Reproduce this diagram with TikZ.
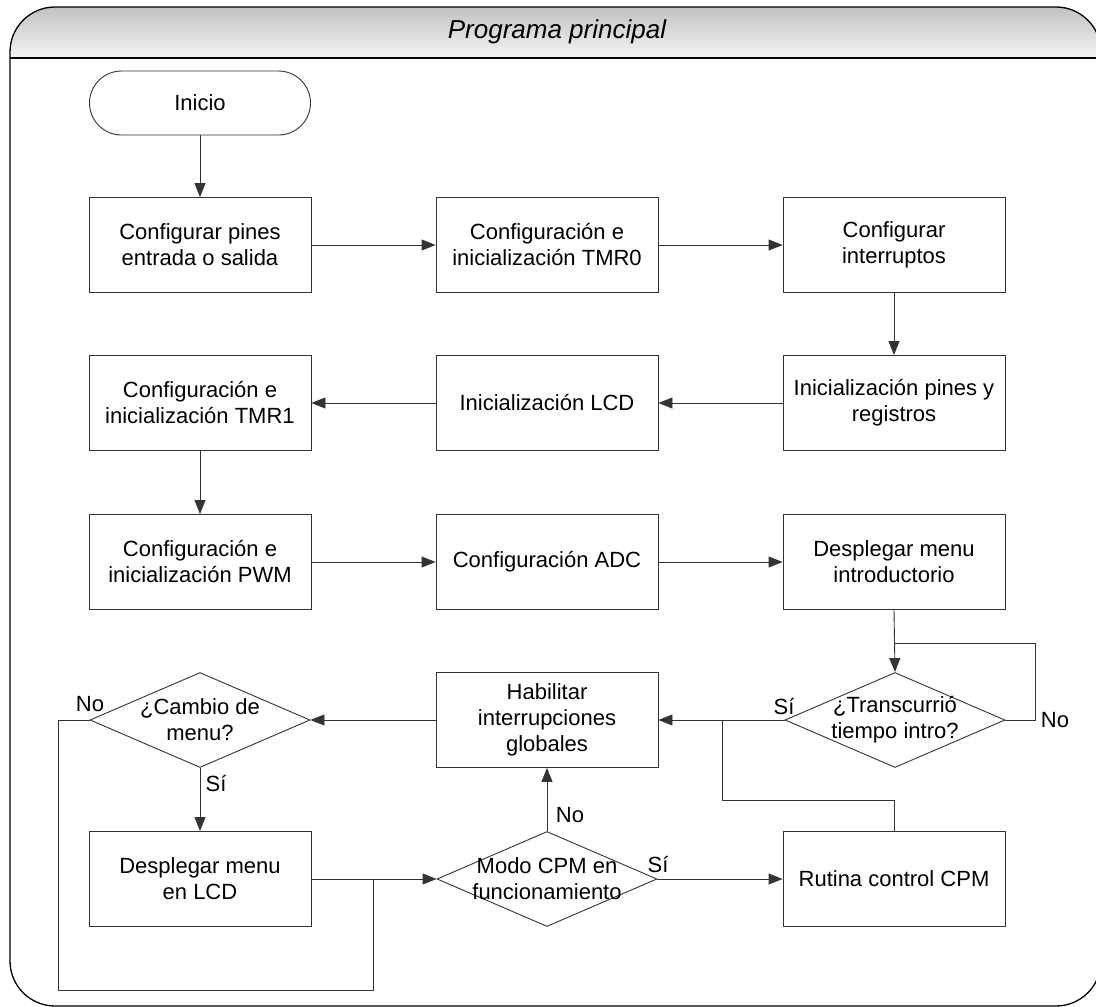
\documentclass[tikz,border=0pt]{standalone}
\usepackage{fontspec}
\setmainfont{Liberation Sans}
\usetikzlibrary{shapes.geometric,arrows.meta}
\begin{document}
\begin{tikzpicture}[x=1pt,y=-1pt,
 tx/.style={font=\fontsize{22}{26}\selectfont},
 box/.style={tx, draw=black!80, line width=0.9pt, minimum width=222pt, minimum height=95pt, inner sep=0pt, align=center},
 dia/.style={draw=black!80, diamond, line width=0.9pt, minimum width=220pt, minimum height=95pt, inner sep=0pt},
 dtxt/.style={tx, align=center, inner sep=0pt},
 lab/.style={tx, inner sep=0pt},
 conn/.style={draw=black!80, line width=0.9pt},
 arr/.style={conn, -{Triangle[length=14pt,width=11pt]}},
]
\useasboundingbox (0,0) rectangle (1096,1007);
% frame
\begin{scope}
\clip[rounded corners=45pt] (10,7) rectangle (1101,1006);
\shade[top color=black!24, bottom color=black!4] (10,7) rectangle (1101,58);
\end{scope}
\draw[line width=1.3pt, rounded corners=45pt] (10,7) rectangle (1101,1006);
\draw[line width=1.5pt] (10,58) -- (1101,58);
\node[font=\fontsize{26}{30}\selectfont\itshape, inner sep=0pt] (title) at (557,32) {Programa principal};

% nodes
\node[box, minimum height=64pt, minimum width=221pt, rounded corners=32pt] (inicio) at (200,103) {Inicio};
\node[box] (b1) at (200,245) {Configurar pines\\entrada o salida};
\node[box] (b2) at (547,245) {Configuración e\\inicialización TMR0};
\node[box] (b3) at (894,245) {Configurar\\interruptos};
\node[box] (b4) at (894,403) {Inicialización pines y\\registros};
\node[box] (b5) at (547,403) {Inicialización LCD};
\node[box] (b6) at (200,403) {Configuración e\\inicialización TMR1};
\node[box] (b7) at (200,562) {Configuración e\\inicialización PWM};
\node[box] (b8) at (547,562) {Configuración ADC};
\node[box] (b9) at (894,562) {Desplegar menu\\introductorio};
\node[dia] (d1) at (895,720) {};
\node[dtxt] (d1t) at (d1.center) {¿Transcurrió\\tiempo intro?};
\node[box] (b10) at (547,720) {Habilitar\\interrupciones\\globales};
\node[dia] (d2) at (200,720) {};
\node[dtxt] (d2t) at (d2.center) {¿Cambio de\\menu?};
\node[box] (b11) at (200,879) {Desplegar menu\\en LCD};
\node[dia] (d3) at (547,879) {};
\node[dtxt] (d3t) at (d3.center) {Modo CPM en\\funcionamiento};
\node[box] (b12) at (894,879) {Rutina control CPM};

% connectors
\draw[arr] (inicio) -- (b1);
\draw[arr] (b1) -- (b2);
\draw[arr] (b2) -- (b3);
\draw[arr] (b3) -- (b4);
\draw[arr] (b4) -- (b5);
\draw[arr] (b5) -- (b6);
\draw[arr] (b6) -- (b7);
\draw[arr] (b7) -- (b8);
\draw[arr] (b8) -- (b9);
\draw[arr] (b9.south) -- (d1.north);
\coordinate (lp) at (1035,643);
\draw[conn] (d1.east) -| (lp) -- (d1.north |- lp);
\draw[arr] (d1.west) -- (b10.east);
\draw[arr] (b10.west) -- (d2.east);
\draw[arr] (d2.south) -- (b11.north);
\draw[arr] (b11.east) -- (d3.west);
\draw[arr] (d3.east) -- (b12.west);
\draw[arr] (d3.north) -- (b10.south);
\coordinate (j1) at (722,800);
\draw[conn] (b12.north) |- (j1) -- (j1 |- b10.east);
\coordinate (c1) at (58,990);
\coordinate (c2) at (373,990);
\draw[conn] (d2.west) -| (c1) -- (c2) -- (c2 |- d3.west);

% labels
\node[lab] (l1) at (784,706) {Sí};
\node[lab] (l2) at (1055,720) {No};
\node[lab] (l3) at (90,704) {No};
\node[lab] (l4) at (216,783) {Sí};
\node[lab] (l5) at (570,815) {No};
\node[lab] (l6) at (658,864) {Sí};
\end{tikzpicture}
\end{document}
